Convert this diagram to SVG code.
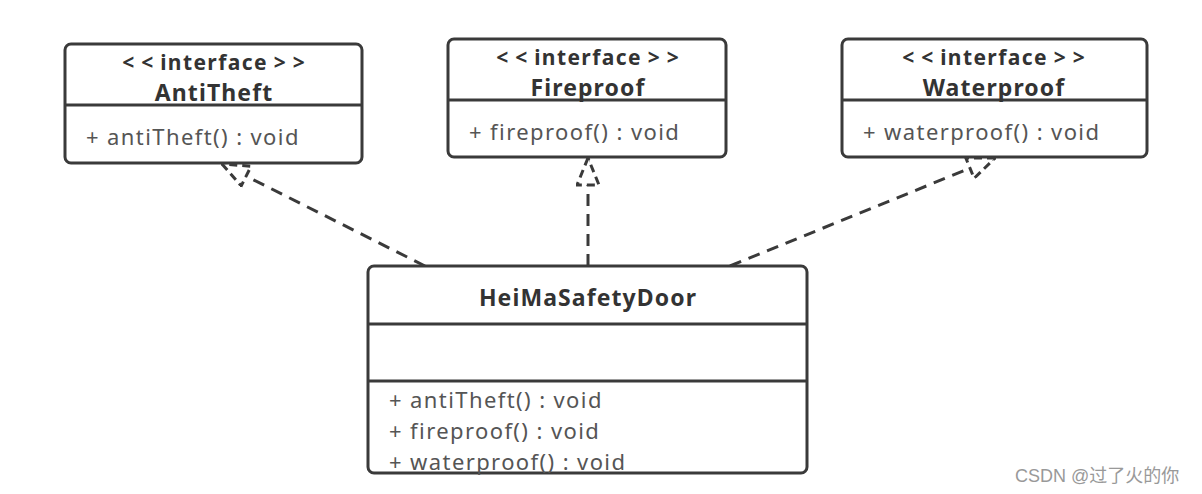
<svg xmlns="http://www.w3.org/2000/svg" width="1202" height="494" viewBox="0 0 1202 494">
<style>
.box{fill:#fff;stroke:#3a3a3a;stroke-width:3}
.div{stroke:#3a3a3a;stroke-width:3}
.st{font-family:"Noto Sans","Open Sans",sans-serif;font-size:21px;font-weight:bold;fill:#333;text-anchor:middle;letter-spacing:1.4px}
.br{letter-spacing:7px}
.nm{font-family:"Noto Sans","Open Sans",sans-serif;font-size:23px;font-weight:bold;fill:#333;text-anchor:middle;letter-spacing:1.1px}
.mt{font-family:"Noto Sans","Open Sans",sans-serif;font-size:22px;fill:#555;letter-spacing:1.4px}
.edge{fill:none;stroke:#3a3a3a;stroke-width:3;stroke-dasharray:12 8}
.wm{font-family:"Liberation Sans","Noto Sans CJK SC",sans-serif;font-size:18px;fill:#999}
</style>
<defs>
<marker id="real" viewBox="0 0 30 24" refX="29" refY="12" markerWidth="30" markerHeight="24" markerUnits="userSpaceOnUse" orient="auto">
<path d="M29,12 L2,1 L2,23 Z" fill="#fff" stroke="#3a3a3a" stroke-width="3" stroke-dasharray="8 5"/>
</marker>
</defs>
<g id="connectors">
<path class="edge" d="M425,266 L222,164" marker-end="url(#real)"/>
<path class="edge" d="M588,266 L588,158" marker-end="url(#real)"/>
<path class="edge" d="M730,266 L995,158" marker-end="url(#real)"/>
</g>
<g id="antitheft">
<rect class="box" x="65" y="44" width="297" height="119" rx="6"/>
<line class="div" x1="65" y1="105" x2="362" y2="105"/>
<text class="st" x="217" y="70"><tspan class="br">&lt;&lt;</tspan>interface<tspan class="br" dx="6">&gt;&gt;</tspan></text>
<text class="nm" x="214" y="101">AntiTheft</text>
<text class="mt" x="86" y="145">+ antiTheft() : void</text>
</g>
<g id="fireproof">
<rect class="box" x="448" y="39" width="278" height="118" rx="6"/>
<line class="div" x1="448" y1="100" x2="726" y2="100"/>
<text class="st" x="591" y="65"><tspan class="br">&lt;&lt;</tspan>interface<tspan class="br" dx="6">&gt;&gt;</tspan></text>
<text class="nm" x="588" y="96">Fireproof</text>
<text class="mt" x="469" y="140">+ fireproof() : void</text>
</g>
<g id="waterproof">
<rect class="box" x="842" y="39" width="305" height="118" rx="6"/>
<line class="div" x1="842" y1="100" x2="1147" y2="100"/>
<text class="st" x="997" y="65"><tspan class="br">&lt;&lt;</tspan>interface<tspan class="br" dx="6">&gt;&gt;</tspan></text>
<text class="nm" x="994" y="96">Waterproof</text>
<text class="mt" x="863" y="140">+ waterproof() : void</text>
</g>
<g id="door">
<rect class="box" x="368" y="266" width="439" height="207" rx="6"/>
<line class="div" x1="368" y1="324" x2="807" y2="324"/>
<line class="div" x1="368" y1="381" x2="807" y2="381"/>
<text class="nm" x="588" y="306">HeiMaSafetyDoor</text>
<text class="mt" x="389" y="408">+ antiTheft() : void</text>
<text class="mt" x="389" y="439">+ fireproof() : void</text>
<text class="mt" x="389" y="470">+ waterproof() : void</text>
</g>
<text class="wm" x="1015" y="482">CSDN @过了火的你</text>
</svg>
